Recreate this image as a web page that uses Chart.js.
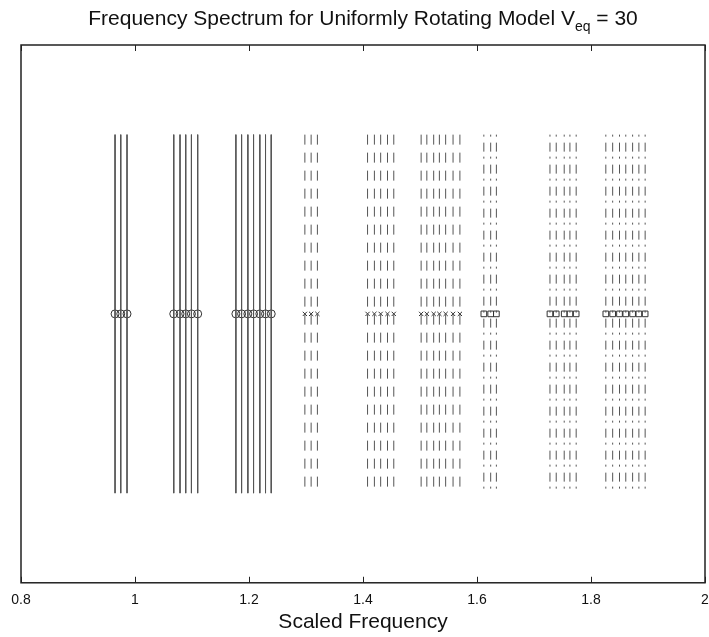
<!DOCTYPE html>
<html>
<head>
<meta charset="utf-8">
<script src="https://cdn.jsdelivr.net/npm/chart.js@4.4.1/dist/chart.umd.min.js"></script>
<style>
  html, body { margin: 0; padding: 0; overflow: hidden; background: #fff; }
  #wrap { width: 709px; height: 637px; position: relative; }
  #spectrum { display: block; }
</style>
</head>
<body>
<div id="wrap"><canvas id="spectrum"></canvas></div>
<script>
// mode frequencies (scaled frequency)
const freqA1 = [0.965, 0.975, 0.986];
const freqA2 = [1.068, 1.079, 1.089, 1.099, 1.110];
const freqA3 = [1.177, 1.187, 1.198, 1.208, 1.219, 1.229, 1.239];
const freqB1 = [1.298, 1.309, 1.320];
const freqB2 = [1.408, 1.420, 1.431, 1.443, 1.454];
const freqB3 = [1.502, 1.512, 1.524, 1.534, 1.545, 1.558, 1.570];
const freqC1 = [1.612, 1.624, 1.634];
const freqC2 = [1.728, 1.739, 1.753, 1.763, 1.774];
const freqC3 = [1.826, 1.838, 1.850, 1.861, 1.873, 1.884, 1.895];

const lineTop = 1;
const lineBottom = -1;
const markerLevel = 0;

const xTicks = [0.8, 1, 1.2, 1.4, 1.6, 1.8, 2];
const xTickLabels = ['0.8', '1', '1.2', '1.4', '1.6', '1.8', '2'];

const lineColor = '#555';
const fontFamily = '"Liberation Sans", Arial, sans-serif';

const families = [
    { groups: [freqA1, freqA2, freqA3], dash: [], marker: 'circle', radius: 4 },
    { groups: [freqB1, freqB2, freqB3], dash: [10, 8], marker: 'crossRot', radius: 3 },
    { groups: [freqC1, freqC2, freqC3], dash: [2, 6, 9, 5], marker: 'rect', radius: 4 }
];

const datasets = [];
families.forEach(function(fam) {
    fam.groups.forEach(function(freqs) {
        freqs.forEach(function(f) {
            datasets.push({
                type: 'line',
                data: [{ x: f, y: lineTop }, { x: f, y: lineBottom }],
                borderColor: lineColor,
                borderWidth: 1,
                borderDash: fam.dash,
                pointRadius: 0,
                fill: false
            });
        });
        datasets.push({
            type: 'scatter',
            data: freqs.map(function(f) { return { x: f, y: markerLevel }; }),
            pointStyle: fam.marker,
            pointRadius: fam.radius,
            borderColor: '#333',
            backgroundColor: 'rgba(0,0,0,0)',
            borderWidth: 1
        });
    });
});

// box, inward ticks and title with subscript
const matlabFrame = {
    id: 'matlabFrame',
    afterDraw: function(chart) {
        const c = chart.ctx;
        const a = chart.chartArea;
        const xs = chart.scales.x;
        c.save();
        c.strokeStyle = '#222';
        c.lineWidth = 1.5;
        c.strokeRect(a.left, a.top, a.right - a.left, a.bottom - a.top);
        c.lineWidth = 1;
        xTicks.forEach(function(t) {
            const px = Math.round(xs.getPixelForValue(t)) + 0.5;
            c.beginPath();
            c.moveTo(px, a.bottom);
            c.lineTo(px, a.bottom - 6);
            c.moveTo(px, a.top);
            c.lineTo(px, a.top + 6);
            c.stroke();
        });
        c.fillStyle = '#111';
        c.textBaseline = 'alphabetic';
        const mainFont = '21px ' + fontFamily;
        const subFont = '14px ' + fontFamily;
        const part1 = 'Frequency Spectrum for Uniformly Rotating Model V';
        const part2 = 'eq';
        const part3 = ' = 30';
        c.font = mainFont;
        const w1 = c.measureText(part1).width;
        const w3 = c.measureText(part3).width;
        c.font = subFont;
        const w2 = c.measureText(part2).width;
        let x = (a.left + a.right) / 2 - (w1 + w2 + w3) / 2;
        const base = 25;
        c.textAlign = 'left';
        c.font = mainFont;
        c.fillText(part1, x, base);
        x += w1;
        c.font = subFont;
        c.fillText(part2, x, base + 6);
        x += w2;
        c.font = mainFont;
        c.fillText(part3, x, base);
        c.restore();
    }
};

new Chart(document.getElementById('spectrum'), {
    type: 'scatter',
    data: { datasets: datasets },
    plugins: [matlabFrame],
    options: {
        responsive: true,
        maintainAspectRatio: false,
        animation: false,
        layout: { autoPadding: false, padding: { top: 45, left: 21, right: 4, bottom: 2 } },
        plugins: {
            legend: { display: false },
            tooltip: { enabled: false }
        },
        scales: {
            x: {
                type: 'linear',
                min: 0.8,
                max: 2,
                afterBuildTicks: function(scale) {
                    scale.ticks = xTicks.map(function(v) { return { value: v }; });
                },
                grid: { display: false, drawTicks: false, tickLength: 0 },
                border: { display: false },
                ticks: {
                    padding: 0,
                    color: '#111',
                    font: { family: fontFamily, size: 14, lineHeight: 2.43 },
                    maxRotation: 0,
                    callback: function(value, index) { return xTickLabels[index]; }
                },
                title: {
                    display: true,
                    text: 'Scaled Frequency',
                    color: '#111',
                    font: { family: fontFamily, size: 21 },
                    padding: { top: -7, bottom: 0 }
                }
            },
            y: {
                display: false,
                min: -1.5,
                max: 1.5
            }
        }
    }
});
</script>
</body>
</html>
